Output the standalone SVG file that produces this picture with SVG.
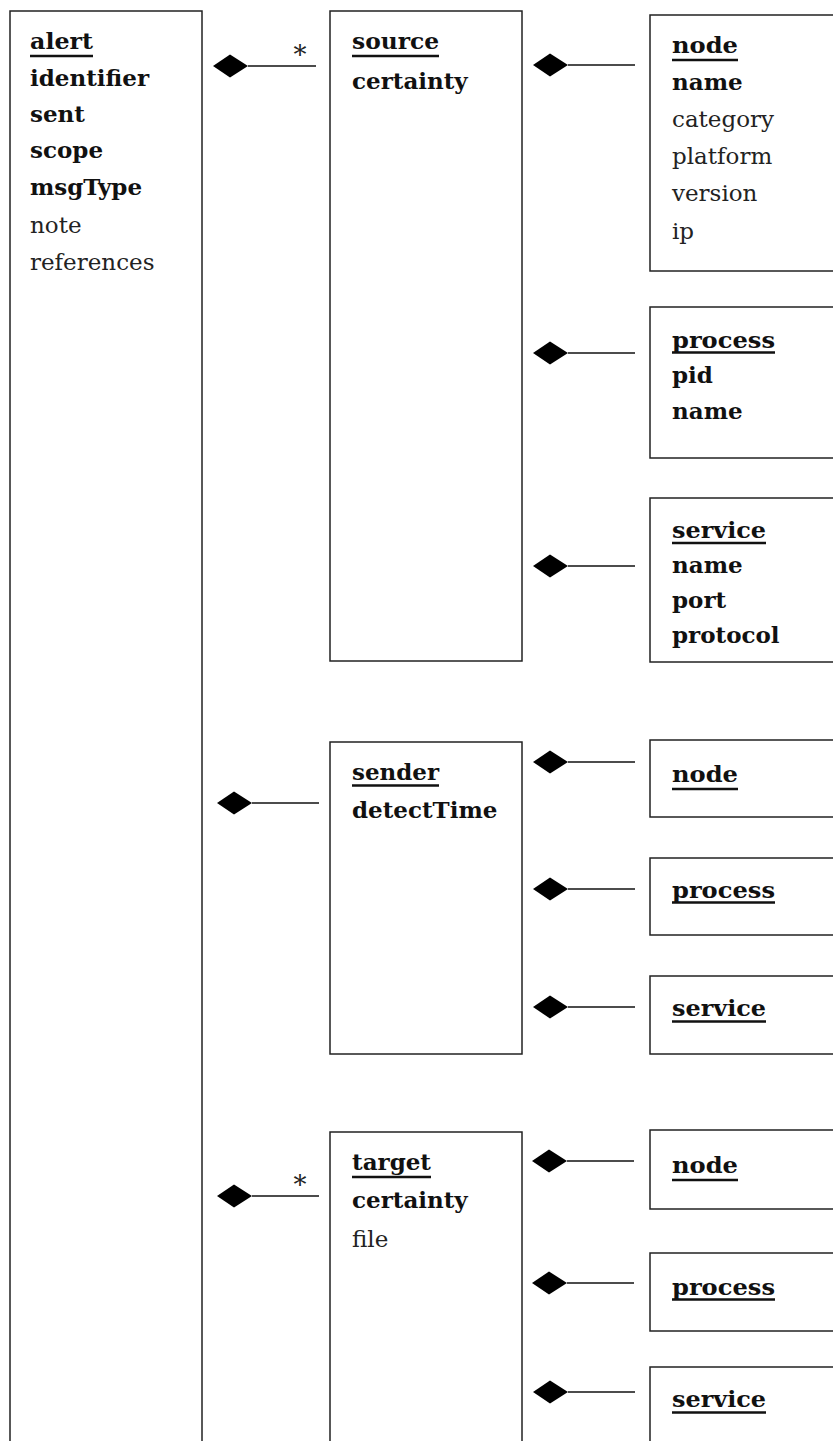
<svg xmlns="http://www.w3.org/2000/svg" width="833" height="1441" viewBox="0 0 833 1441">
  <defs>
    <style>
      .box { fill: none; stroke: #222; stroke-width: 1.5; }
      .link { stroke: #111; stroke-width: 1.5; fill: none; }
      .dia { fill: #000; }
      .ul { stroke: #111; stroke-width: 2.6; }
      text { font-family: "DejaVu Serif", "Liberation Serif", serif; font-size: 23px; fill: #111; }
      .b { font-weight: bold; }
      .r { font-weight: normal; fill: #222; }
      .star { font-size: 26px; fill: #222; }
    </style>
    <polygon id="diamond" class="dia" points="0,0 17,-11.5 35,0 17,11.5"/>
  </defs>

  <rect width="833" height="1441" fill="#ffffff"/>

  <!-- connectors: filled diamond on the owning side -->
  <g id="connectors">
    <use href="#diamond" x="213" y="66"/>
    <line class="link" x1="248" y1="66" x2="316" y2="66"/>
    <text class="star" x="300" y="64" text-anchor="middle">*</text>

    <use href="#diamond" x="217" y="803"/>
    <line class="link" x1="252" y1="803" x2="319" y2="803"/>

    <use href="#diamond" x="217" y="1196"/>
    <line class="link" x1="252" y1="1196" x2="319" y2="1196"/>
    <text class="star" x="300" y="1194" text-anchor="middle">*</text>

    <use href="#diamond" x="533" y="65"/>
    <line class="link" x1="568" y1="65" x2="635" y2="65"/>
    <use href="#diamond" x="533" y="353"/>
    <line class="link" x1="568" y1="353" x2="635" y2="353"/>
    <use href="#diamond" x="533" y="566"/>
    <line class="link" x1="568" y1="566" x2="635" y2="566"/>

    <use href="#diamond" x="533" y="762"/>
    <line class="link" x1="568" y1="762" x2="635" y2="762"/>
    <use href="#diamond" x="533" y="889"/>
    <line class="link" x1="568" y1="889" x2="635" y2="889"/>
    <use href="#diamond" x="533" y="1007"/>
    <line class="link" x1="568" y1="1007" x2="635" y2="1007"/>

    <use href="#diamond" x="532" y="1161"/>
    <line class="link" x1="567" y1="1161" x2="634" y2="1161"/>
    <use href="#diamond" x="532" y="1283"/>
    <line class="link" x1="567" y1="1283" x2="634" y2="1283"/>
    <use href="#diamond" x="533" y="1392"/>
    <line class="link" x1="568" y1="1392" x2="635" y2="1392"/>
  </g>

  <g id="alert">
    <rect class="box" x="10" y="11" width="192" height="1450"/>
    <text class="b" x="30" y="49" textLength="63" lengthAdjust="spacingAndGlyphs">alert</text>
    <line class="ul" x1="30" y1="56" x2="93" y2="56"/>
    <text class="b" x="30" y="86">identifier</text>
    <text class="b" x="30" y="122">sent</text>
    <text class="b" x="30" y="158">scope</text>
    <text class="b" x="30" y="195">msgType</text>
    <text class="r" x="30" y="233">note</text>
    <text class="r" x="30" y="270">references</text>
  </g>

  <g id="source">
    <rect class="box" x="330" y="11" width="192" height="650"/>
    <text class="b" x="352" y="49" textLength="87" lengthAdjust="spacingAndGlyphs">source</text>
    <line class="ul" x1="352" y1="56" x2="439" y2="56"/>
    <text class="b" x="352" y="89">certainty</text>
  </g>

  <g id="source-node">
    <rect class="box" x="650" y="15" width="200" height="256"/>
    <text class="b" x="672" y="53" textLength="66" lengthAdjust="spacingAndGlyphs">node</text>
    <line class="ul" x1="672" y1="60" x2="738" y2="60"/>
    <text class="b" x="672" y="90">name</text>
    <text class="r" x="672" y="127">category</text>
    <text class="r" x="672" y="164">platform</text>
    <text class="r" x="672" y="201">version</text>
    <text class="r" x="672" y="239">ip</text>
  </g>

  <g id="source-process">
    <rect class="box" x="650" y="307" width="200" height="151"/>
    <text class="b" x="672" y="348" textLength="103" lengthAdjust="spacingAndGlyphs">process</text>
    <line class="ul" x1="672" y1="352.5" x2="775" y2="352.5"/>
    <text class="b" x="672" y="383">pid</text>
    <text class="b" x="672" y="419">name</text>
  </g>

  <g id="source-service">
    <rect class="box" x="650" y="498" width="200" height="164"/>
    <text class="b" x="672" y="538" textLength="94" lengthAdjust="spacingAndGlyphs">service</text>
    <line class="ul" x1="672" y1="543" x2="766" y2="543"/>
    <text class="b" x="672" y="573">name</text>
    <text class="b" x="672" y="608">port</text>
    <text class="b" x="672" y="643">protocol</text>
  </g>

  <g id="sender">
    <rect class="box" x="330" y="742" width="192" height="312"/>
    <text class="b" x="352" y="780" textLength="87" lengthAdjust="spacingAndGlyphs">sender</text>
    <line class="ul" x1="352" y1="785.5" x2="439" y2="785.5"/>
    <text class="b" x="352" y="818">detectTime</text>
  </g>

  <g id="sender-node">
    <rect class="box" x="650" y="740" width="200" height="77"/>
    <text class="b" x="672" y="782" textLength="66" lengthAdjust="spacingAndGlyphs">node</text>
    <line class="ul" x1="672" y1="789" x2="738" y2="789"/>
  </g>

  <g id="sender-process">
    <rect class="box" x="650" y="858" width="200" height="77"/>
    <text class="b" x="672" y="898" textLength="103" lengthAdjust="spacingAndGlyphs">process</text>
    <line class="ul" x1="672" y1="902.5" x2="775" y2="902.5"/>
  </g>

  <g id="sender-service">
    <rect class="box" x="650" y="976" width="200" height="78"/>
    <text class="b" x="672" y="1016" textLength="94" lengthAdjust="spacingAndGlyphs">service</text>
    <line class="ul" x1="672" y1="1021.5" x2="766" y2="1021.5"/>
  </g>

  <g id="target">
    <rect class="box" x="330" y="1132" width="192" height="330"/>
    <text class="b" x="352" y="1170" textLength="79" lengthAdjust="spacingAndGlyphs">target</text>
    <line class="ul" x1="352" y1="1177" x2="431" y2="1177"/>
    <text class="b" x="352" y="1208">certainty</text>
    <text class="r" x="352" y="1247">file</text>
  </g>

  <g id="target-node">
    <rect class="box" x="650" y="1130" width="200" height="79"/>
    <text class="b" x="672" y="1173" textLength="66" lengthAdjust="spacingAndGlyphs">node</text>
    <line class="ul" x1="672" y1="1180" x2="738" y2="1180"/>
  </g>

  <g id="target-process">
    <rect class="box" x="650" y="1253" width="200" height="78"/>
    <text class="b" x="672" y="1295" textLength="103" lengthAdjust="spacingAndGlyphs">process</text>
    <line class="ul" x1="672" y1="1299.5" x2="775" y2="1299.5"/>
  </g>

  <g id="target-service">
    <rect class="box" x="650" y="1367" width="200" height="100"/>
    <text class="b" x="672" y="1407" textLength="94" lengthAdjust="spacingAndGlyphs">service</text>
    <line class="ul" x1="672" y1="1412.5" x2="766" y2="1412.5"/>
  </g>
</svg>
